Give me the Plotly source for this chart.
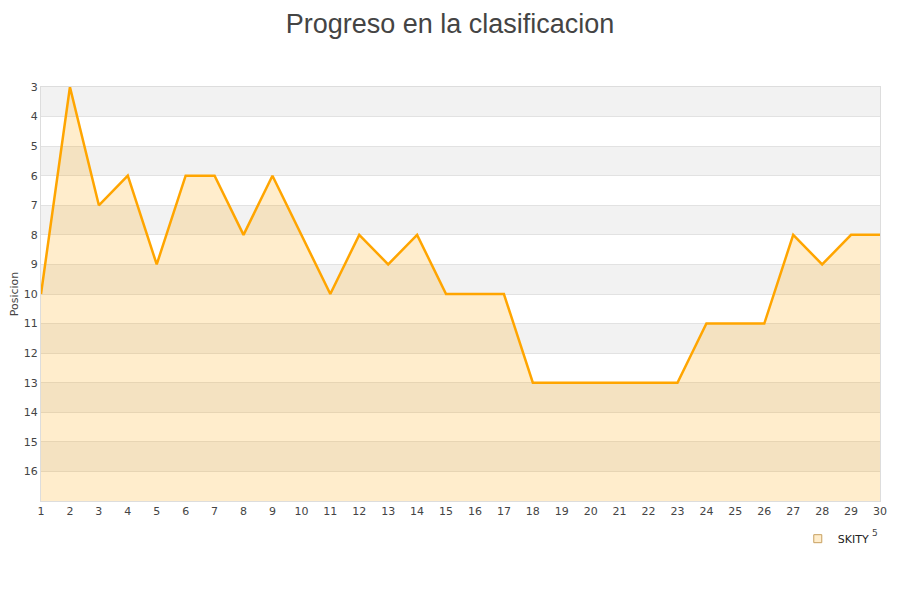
import plotly.graph_objects as go

jornadas = list(range(1, 31))
posiciones = [10, 3, 7, 6, 9, 6, 6, 8, 6, 8, 10, 8, 9, 8, 10, 10, 10, 13, 13, 13, 13, 13, 13, 11, 11, 11, 8, 9, 8, 8]
y_ticks = list(range(3, 17))
serie = "SKITY"

fig = go.Figure()

# alternating bands
for k in range(3, 17, 2):
    fig.add_shape(type="rect", xref="paper", yref="y", x0=0, x1=1, y0=k, y1=k + 1,
                  fillcolor="#f2f2f2", line_width=0, layer="below")

fig.add_trace(go.Scatter(x=jornadas, y=[17] * len(jornadas), mode="lines",
                         line=dict(width=0, color="rgba(0,0,0,0)"), showlegend=False, hoverinfo="skip"))
fig.add_trace(go.Scatter(x=jornadas, y=posiciones, mode="lines", fill="tonexty",
                         fillcolor="rgba(255,165,0,0.2)", line=dict(color="#ffa500", width=2.5),
                         showlegend=False, name=serie))
fig.add_trace(go.Scatter(x=[None], y=[None], mode="markers", name=serie,
                         marker=dict(symbol="square", size=8, color="#ffedcc",
                                     line=dict(color="#c8a060", width=1))))

fig.update_layout(
    width=900, height=600,
    paper_bgcolor="white", plot_bgcolor="white",
    margin=dict(l=33, r=28, t=79, b=107),
    title=dict(text="Progreso en la clasificacion", x=(450 - 8) / 900, xanchor="center",
               y=1 - 16 / 600, yanchor="middle",
               font=dict(family="Liberation Sans, Arial", size=27, color="#444")),
    font=dict(family="DejaVu Sans, Arial", size=11, color="#444"),
    showlegend=True,
    legend=dict(x=0.902, y=-0.056, xanchor="left", yanchor="top", bgcolor="rgba(0,0,0,0)",
                font=dict(size=11, color="#222"), itemwidth=30),
)
fig.update_xaxes(range=[1, 30], tickmode="array", tickvals=jornadas, showgrid=False, zeroline=False,
                 showline=True, linecolor="#ddd", mirror=True, ticks="", automargin=False,
                 tickfont=dict(size=11, color="#444"))
fig.update_yaxes(range=[17, 3], tickmode="array", tickvals=y_ticks, showgrid=True, gridcolor="#e2e2e2",
                 zeroline=False, showline=True, linecolor="#ddd", mirror=True, ticks="", automargin=False,
                 title=dict(text="Posicion", font=dict(size=11, color="#444"), standoff=9),
                 tickfont=dict(size=11, color="#444"))
fig.add_annotation(text="5", xref="paper", yref="paper", x=0.994, y=-0.077, showarrow=False,
                   font=dict(size=9, color="#444"), xanchor="center", yanchor="middle")

fig.write_html("out.html")
